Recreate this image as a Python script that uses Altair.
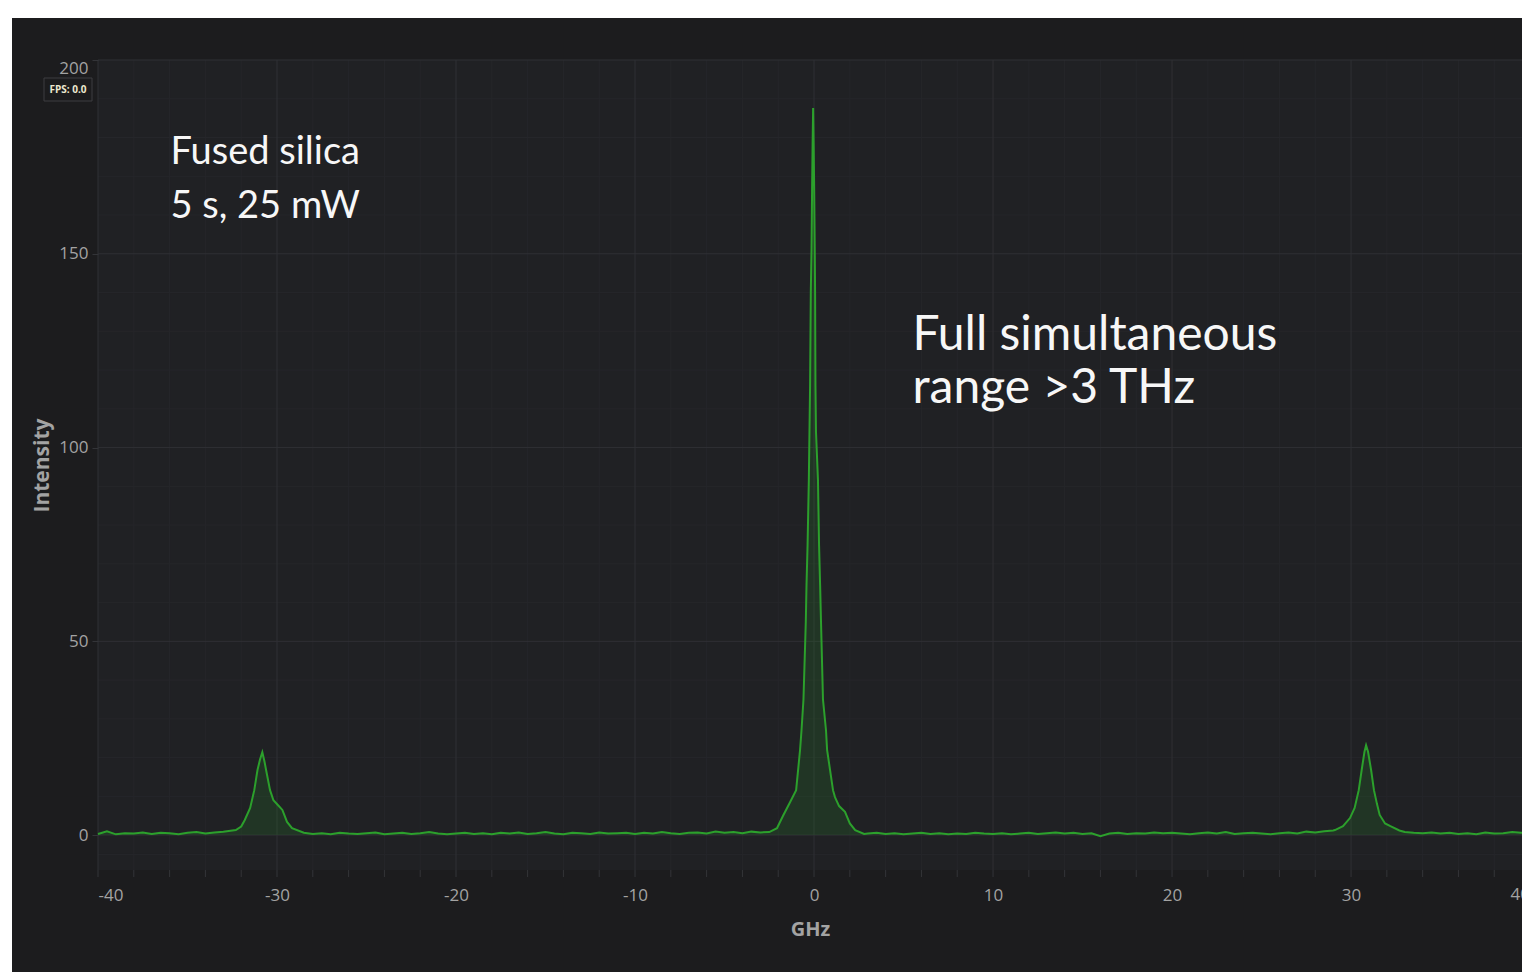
import altair as alt
import pandas as pd

# ---- data ----
# baseline noise, x from -40 to 40 in 0.5 GHz steps (161 values)
base_start = -40.0
base_step = 0.5
base_vals = [
    0.3, 1.0, 0.2, 0.5, 0.4, 0.7, 0.3, 0.6, 0.5, 0.2,
    0.6, 0.8, 0.4, 0.7, 0.9, 1.2, 0.0, 0.0, 0.0, 0.0,
    0.0, 0.0, 0.0, 0.6, 0.3, 0.5, 0.2, 0.6, 0.4, 0.3,
    0.5, 0.7, 0.2, 0.4, 0.6, 0.3, 0.5, 0.8, 0.4, 0.2,
    0.4, 0.6, 0.3, 0.5, 0.2, 0.6, 0.4, 0.7, 0.3, 0.5,
    0.8, 0.4, 0.2, 0.6, 0.5, 0.3, 0.7, 0.4, 0.5, 0.6,
    0.3, 0.6, 0.4, 0.8, 0.5, 0.3, 0.6, 0.7, 0.4, 0.9,
    0.6, 0.8, 0.5, 0.9, 0.7, 0.0, 0.0, 0.0, 0.0, 0.0,
    0.0, 0.0, 0.0, 0.0, 0.0, 0.0, 0.4, 0.6, 0.3, 0.5,
    0.2, 0.4, 0.6, 0.3, 0.5, 0.2, 0.4, 0.3, 0.6, 0.4,
    0.3, 0.5, 0.2, 0.4, 0.6, 0.3, 0.5, 0.7, 0.4, 0.6,
    0.3, 0.5, -0.3, 0.4, 0.6, 0.3, 0.5, 0.4, 0.7, 0.5,
    0.6, 0.4, 0.2, 0.5, 0.7, 0.4, 0.8, 0.3, 0.5, 0.6,
    0.4, 0.2, 0.5, 0.7, 0.4, 0.9, 0.7, 1.0, 1.2, 0.0,
    0.0, 0.0, 0.0, 0.0, 0.0, 0.0, 0.8, 0.6, 0.5, 0.7,
    0.4, 0.6, 0.3, 0.5, 0.2, 0.7, 0.4, 0.5, 0.8, 0.6,
    0.6,
]
peak_windows = [(-32.5, -28.9), (-2.6, 2.85), (29.05, 32.75)]

left_peak_x = [-32.3, -32.0, -31.8, -31.5, -31.27, -31.09, -30.95, -30.82,
               -30.7, -30.61, -30.39, -30.2, -29.94, -29.7, -29.44, -29.16]
left_peak_y = [1.3, 2.2, 3.9, 7.0, 11.6, 16.8, 19.5, 21.4,
               19.0, 16.8, 11.6, 9.0, 7.7, 6.5, 3.4, 1.8]

center_peak_x = [-2.5, -2.07, -1.73, -1.34, -1.0, -0.78, -0.70, -0.59,
                 -0.46, -0.42, -0.36, -0.29, -0.22, -0.18, -0.14, -0.11,
                 -0.08, -0.05, -0.02, 0.01, 0.04, 0.06, 0.08, 0.11, 0.22,
                 0.28, 0.34, 0.39, 0.50, 0.67, 0.73, 1.06, 1.17, 1.4, 1.73,
                 2.0, 2.3, 2.8]
center_peak_y = [0.8, 1.8, 5.0, 8.5, 11.6, 22.0, 27.0, 35.0,
                 55.0, 64.5, 75.0, 91.6, 116.0, 140.0, 151.0, 166.0,
                 178.0, 187.6, 178.0, 166.0, 151.0, 140.0, 116.0, 104.0, 91.6,
                 75.0, 64.5, 55.0, 35.0, 27.0, 22.0, 11.6, 9.8, 7.5, 6.0,
                 3.0, 1.3, 0.3]

right_peak_x = [29.1, 29.55, 29.94, 30.2, 30.43, 30.6, 30.75, 30.84,
                30.95, 31.12, 31.28, 31.45, 31.6, 31.9, 32.2, 32.7]
right_peak_y = [1.3, 2.3, 4.4, 7.0, 11.6, 17.0, 21.5, 23.2,
                21.5, 16.8, 11.6, 8.0, 5.2, 3.0, 2.3, 1.2]

x_ticks = [-40, -38, -36, -34, -32, -30, -28, -26, -24, -22, -20, -18, -16,
           -14, -12, -10, -8, -6, -4, -2, 0, 2, 4, 6, 8, 10, 12, 14, 16, 18,
           20, 22, 24, 26, 28, 30, 32, 34, 36, 38]
x_major = [-40, -30, -20, -10, 0, 10, 20, 30]
x_minor = [-38, -36, -34, -32, -28, -26, -24, -22, -18, -16, -14, -12,
           -8, -6, -4, -2, 2, 4, 6, 8, 12, 14, 16, 18, 22, 24, 26, 28,
           32, 34, 36, 38]
y_major = [0, 50, 100, 150, 200]
y_minor = [-5, 10, 20, 30, 40, 60, 70, 80, 90, 110, 120, 130, 140,
           160, 170, 180, 190]
x_edge_label = ["40"]
x_edge_value = [40]

notes_left = ["Fused silica", "5 s, 25 mW"]
notes_left_x = [-35.95, -35.95]
notes_left_y = [173.1, 159.3]
notes_right = ["Full simultaneous", "range >3 THz"]
notes_right_x = [5.5, 5.5]
notes_right_y = [125.3, 111.5]

# ---- build table ----
pts = []
for i, v in enumerate(base_vals):
    xv = base_start + base_step * i
    if any(a <= xv <= b for a, b in peak_windows):
        continue
    pts.append((xv, v))
for xs_, ys_ in [(left_peak_x, left_peak_y), (center_peak_x, center_peak_y),
                 (right_peak_x, right_peak_y)]:
    pts.extend(zip(xs_, ys_))
pts.sort()
spec = pd.DataFrame(pts, columns=["ghz", "intensity"])

W, H = 1424, 810
X_DOM = [-40, 39.55]   # the window cuts the panel just short of 40
Y_DOM = [-9, 200]
xs = alt.Scale(domain=X_DOM, nice=False, zero=False)
ys = alt.Scale(domain=Y_DOM, nice=False, zero=False)

OUTER = "#1c1c1e"
PLOT = "#202124"
GRID_MAJ = "#2f3034"
GRID_MIN = "#25262a"
TICK = "#333438"
GREEN = "#2ca02c"
LABEL = "#a3a3a3"
TICK_SIZE = 7
LABEL_PAD = 10
LABEL_SIZE = 17

one = pd.DataFrame({"k": [0]})

outer = alt.Chart(one).mark_rect(color=OUTER).encode(
    x=alt.value(-86), x2=alt.value(W), y=alt.value(-42), y2=alt.value(912)
)

plot_bg = alt.Chart(one).mark_rect(color=PLOT).encode(
    x=alt.datum(X_DOM[0], scale=xs), x2=alt.datum(X_DOM[1]),
    y=alt.datum(Y_DOM[0], scale=ys), y2=alt.datum(Y_DOM[1]),
)

xminor = alt.Chart(pd.DataFrame({"v": x_minor})).mark_rule(color=GRID_MIN, strokeWidth=1).encode(
    x=alt.X("v:Q", scale=xs))
yminor = alt.Chart(pd.DataFrame({"v": y_minor})).mark_rule(color=GRID_MIN, strokeWidth=1).encode(
    y=alt.Y("v:Q", scale=ys))
xmajor = alt.Chart(pd.DataFrame({"v": x_major})).mark_rule(color=GRID_MAJ, strokeWidth=1).encode(
    x=alt.X("v:Q", scale=xs))
ymajor = alt.Chart(pd.DataFrame({"v": y_major})).mark_rule(color=GRID_MAJ, strokeWidth=1).encode(
    y=alt.Y("v:Q", scale=ys))
# x tick marks every 2 GHz below the plot area
xticks = alt.Chart(pd.DataFrame({"v": x_ticks})).mark_rule(color=TICK, strokeWidth=1).encode(
    x=alt.X("v:Q", scale=xs), y=alt.value(H), y2=alt.value(H + TICK_SIZE))

x_axis = alt.Axis(
    title="GHz", values=x_major, labelOverlap=False,
    labelExpr="'' + datum.value",
    grid=False, domain=False, ticks=False, tickSize=TICK_SIZE,
    labelFlush=True, labelFont="Open Sans", labelFontSize=LABEL_SIZE, labelColor=LABEL,
    labelPadding=LABEL_PAD + TICK_SIZE, titleFont="Open Sans", titleFontSize=20,
    titleFontWeight="bold", titleColor=LABEL, titlePadding=16, zindex=1,
)
y_axis = alt.Axis(
    title="Intensity", values=y_major, grid=False, domain=False, ticks=True,
    tickSize=6, tickColor=TICK, labelFlush=True, labelFont="Open Sans",
    labelFontSize=LABEL_SIZE, labelColor=LABEL, labelPadding=4, labelOverlap=False,
    titleFont="Open Sans", titleFontSize=21, titleFontWeight="bold",
    titleColor=LABEL, titlePadding=6, zindex=1,
)

area = alt.Chart(spec).mark_area(color=GREEN, opacity=0.16).encode(
    x=alt.X("ghz:Q", scale=xs, axis=x_axis),
    y=alt.Y("intensity:Q", scale=ys, axis=y_axis),
)
line = alt.Chart(spec).mark_line(color=GREEN, strokeWidth=2).encode(
    x=alt.X("ghz:Q", scale=xs),
    y=alt.Y("intensity:Q", scale=ys),
)

# tick label of x = 40, flush right, cut by the window edge as in the reference
edge_label = alt.Chart(pd.DataFrame({"t": x_edge_label, "v": x_edge_value})).mark_text(
    font="Open Sans", fontSize=LABEL_SIZE, color=LABEL, align="right", baseline="top"
).encode(x=alt.X("v:Q", scale=xs), y=alt.value(H + TICK_SIZE + LABEL_PAD), text="t:N")

t_left = alt.Chart(pd.DataFrame({"t": notes_left, "x": notes_left_x, "y": notes_left_y})).mark_text(
    font="Lato", fontSize=38, color="#f7f7f7", align="left", baseline="alphabetic"
).encode(x=alt.X("x:Q", scale=xs), y=alt.Y("y:Q", scale=ys), text="t:N")
t_right = alt.Chart(pd.DataFrame({"t": notes_right, "x": notes_right_x, "y": notes_right_y})).mark_text(
    font="Lato", fontSize=48, color="#f7f7f7", align="left", baseline="alphabetic"
).encode(x=alt.X("x:Q", scale=xs), y=alt.Y("y:Q", scale=ys), text="t:N")

fps_box = alt.Chart(one).mark_rect(fill=OUTER, stroke="#3d3d40", strokeWidth=1).encode(
    x=alt.value(-54), x2=alt.value(-6), y=alt.value(18), y2=alt.value(41))
fps_text = alt.Chart(pd.DataFrame({"t": ["FPS: 0.0"]})).mark_text(
    font="Open Sans", fontSize=10, fontWeight="bold", color="#ece8cf",
    align="center", baseline="middle"
).encode(x=alt.value(-30), y=alt.value(30), text="t:N")

chart = alt.layer(
    outer, plot_bg, xminor, yminor, xmajor, ymajor, xticks, area, line,
    edge_label, t_left, t_right, fps_box, fps_text
).properties(
    width=W, height=H,
    autosize=alt.AutoSizeParams(type="none"),
    padding={"left": 90, "top": 52, "right": 0, "bottom": 102},
    background="white",
).configure_view(stroke=None)

chart.save("out.html", embed_options={"renderer": "svg", "actions": False})
